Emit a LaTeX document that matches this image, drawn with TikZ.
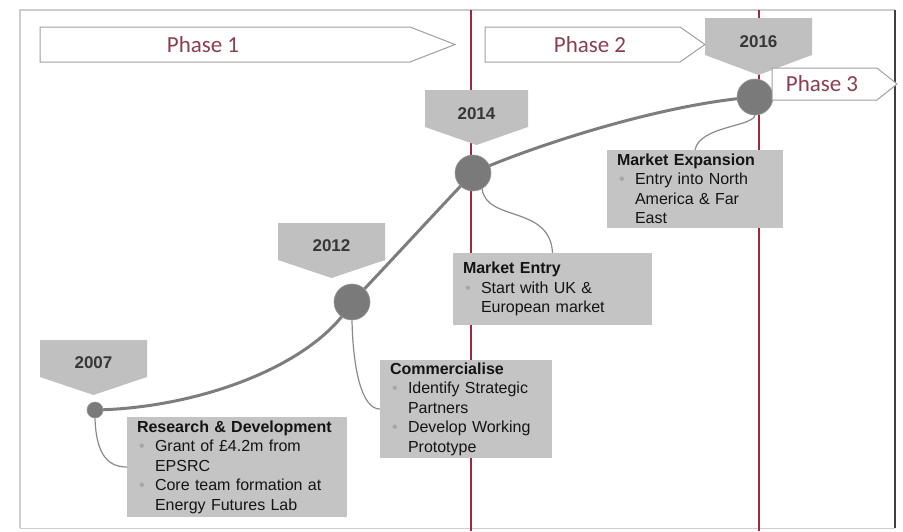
\documentclass[tikz,border=0pt]{standalone}
\usepackage{fontspec}
\setmainfont{Liberation Sans}
\newfontfamily\phasefont{Carlito}
\definecolor{redline}{RGB}{160,40,60}
\definecolor{phasetext}{RGB}{140,62,78}
\definecolor{phaseedge}{RGB}{160,160,160}
\definecolor{flaggrey}{RGB}{192,192,192}
\definecolor{boxgrey}{RGB}{196,196,196}
\definecolor{curvegrey}{RGB}{125,125,125}
\definecolor{dotgrey}{RGB}{122,122,122}
\definecolor{yeartext}{RGB}{55,55,55}
\definecolor{framegrey}{RGB}{205,205,205}
\begin{document}
\begin{tikzpicture}[x=1pt,y=-1pt,
  phasebox/.style={draw=phaseedge,line width=1pt,fill=white},
  phaselabel/.style={font=\phasefont\fontsize{23}{26}\selectfont,text=phasetext,inner sep=0pt},
  flag/.style={fill=flaggrey,draw=none},
  yearlabel/.style={font=\bfseries\fontsize{17}{19}\selectfont,text=yeartext,inner sep=0pt},
  milestone/.style={circle,fill=dotgrey,draw=curvegrey!80,line width=0.6pt,inner sep=0pt},
  curveline/.style={draw=curvegrey,line width=3pt},
  link/.style={draw=curvegrey!90,line width=1.2pt},
  infobox/.style={fill=boxgrey,draw=none,inner xsep=10pt,inner ysep=2pt,align=left,
    font=\fontsize{16}{19.5}\selectfont,text=black!92},
  vline/.style={draw=redline,line width=2pt}
]
\useasboundingbox (0,0) rectangle (903,531);
\newcommand{\bul}{\makebox[18pt][l]{\hspace{2pt}\textcolor{black!35}{\textbullet}}}
\newcommand{\ind}{\hspace*{18pt}}
% frame
\draw[framegrey,line width=1.2pt] (20,528) -- (20,10) -- (895,10);
\draw[framegrey,line width=1pt] (20,528) -- (895,528);
\draw[black!75,line width=2pt] (895,10) -- (895,528);
% vertical phase lines
\coordinate (l1top) at (471,10);
\coordinate (l1bot) at (471,531);
\coordinate (l2top) at (759,10);
\coordinate (l2bot) at (759,531);
\draw[vline] (l1top) -- (l1bot);
\draw[vline] (l2top) -- (l2bot);
% phase arrows 1 and 2
\draw[phasebox] (40,27) -- (410,27) -- (455,44.5) -- (410,62) -- (40,62) -- cycle;
\node[phaselabel] (p1) at (203,44.5) {Phase 1};
\draw[phasebox] (485,27) -- (680,27) -- (705,44.5) -- (680,62) -- (485,62) -- cycle;
\node[phaselabel] (p2) at (590,44.5) {Phase 2};
% year flags
\fill[flag] (40,340) -- (147,340) -- (147,377) -- (93.5,395) -- (40,377) -- cycle;
\node[yearlabel] (y2007) at (93.5,363) {2007};
\fill[flag] (278,223) -- (385,223) -- (385,260) -- (331.5,278) -- (278,260) -- cycle;
\node[yearlabel] (y2012) at (331.5,246) {2012};
\fill[flag] (425,90) -- (528,90) -- (528,127) -- (476.5,145) -- (425,127) -- cycle;
\node[yearlabel] (y2014) at (476.5,114) {2014};
\fill[flag] (705,18) -- (812,18) -- (812,55) -- (758.5,75) -- (705,55) -- cycle;
\node[yearlabel] (y2016) at (758.5,42) {2016};
% milestones (coordinates for curve)
\coordinate (m2007) at (95,410);
\coordinate (m2012) at (352,302);
\coordinate (m2014) at (473,173);
\coordinate (m2016) at (755,97);
% main growth curve
\draw[curveline] (m2007) .. controls (200,408) and (315,365) .. (m2012)
  .. controls (392,260) and (433,215) .. (m2014)
  .. controls (510,155) and (650,105) .. (m2016);
% info boxes
\node[infobox,minimum width=220pt,minimum height=100pt,text width=200pt] (rd) at (237,467)
 {\textbf{Research \& Development}\\
  \bul Grant of £4.2m from\\
  \ind EPSRC\\
  \bul Core team formation at\\
  \ind Energy Futures Lab};
\node[infobox,minimum width=172pt,minimum height=98pt,text width=152pt] (comm) at (466,409)
 {\textbf{Commercialise}\\
  \bul Identify Strategic\\
  \ind Partners\\
  \bul Develop Working\\
  \ind Prototype};
\node[infobox,minimum width=199pt,minimum height=72pt,text width=179pt] (me) at (552.5,289)
 {\textbf{Market Entry}\\
  \bul Start with UK \&\\
  \ind European market};
\node[infobox,minimum width=176pt,minimum height=78pt,text width=156pt] (mx) at (695,189)
 {\textbf{Market Expansion}\\
  \bul Entry into North\\
  \ind America \& Far\\
  \ind East};
% milestone circles
\node[milestone,minimum size=16pt] (c2007) at (m2007) {};
\node[milestone,minimum size=36pt] (c2012) at (m2012) {};
\node[milestone,minimum size=36pt] (c2014) at (m2014) {};
\node[milestone,minimum size=36pt] (c2016) at (m2016) {};
% links
\draw[link] (c2007.south) .. controls (96,450) and (105,467) .. (rd.west);
\draw[link] (c2012.south) .. controls (353,370) and (362,409) .. (comm.west);
\draw[link] (c2014.-60) .. controls (486,222) and (550,205) .. (me.north);
\draw[link] (c2016.south) .. controls (752,127) and (700,126) .. (mx.north);
% phase 3 arrow (over the 2016 circle)
\draw[phasebox] (772,68) -- (877,68) -- (897,84) -- (877,100) -- (772,100) -- cycle;
\node[phaselabel] (p3) at (822,84) {Phase 3};
\end{tikzpicture}
\end{document}
